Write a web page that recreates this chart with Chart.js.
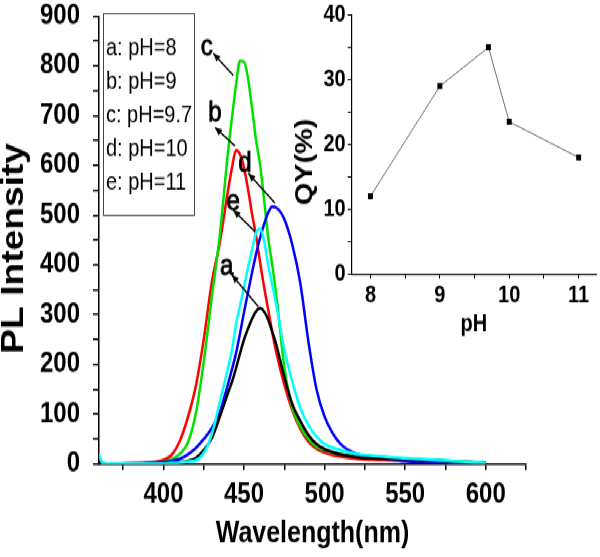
<!DOCTYPE html>
<html>
<head>
<meta charset="utf-8">
<script src="https://cdn.jsdelivr.net/npm/chart.js@4/dist/chart.umd.min.js"></script>
<style>
  html { overflow: hidden; }
  body { margin: 0; padding: 0; background: #fff; height: 557px; }
  /* the source figure is stretched vertically, so the whole drawing is too */
  #stage { position: relative; width: 600px; height: 464px; transform: scaleY(1.2); transform-origin: 0 0; }
  #stage canvas { position: absolute; top: 0; }
  #main { left: 0; }
  #inset { left: 290px; }
</style>
</head>
<body>
<div id="stage">
  <canvas id="main" width="600" height="464"></canvas>
  <canvas id="inset" width="310" height="290"></canvas>
</div>
<script>
// PL spectra, wavelength in nm
const wavelength = [360, 362, 365, 370, 380, 390, 400, 405, 410, 415, 420, 425, 430, 435, 440, 442.5, 445, 447.5,
  450, 452.5, 455, 457.5, 460, 462.5, 465, 467.5, 470, 475, 480, 485, 490, 495, 500, 505, 510, 520, 530, 540,
  550, 560, 570, 580, 590, 600];
const intensityA = [3, 1, 1, 1, 1, 1, 2, 3, 4, 6, 12, 28, 52, 95, 142, 165, 192, 222,
  250, 272, 292, 307, 313, 306, 290, 266, 240, 175, 120, 86, 58, 40, 30, 24, 19, 14, 12, 11,
  10, 8, 7, 5, 4, 3];
const intensityB = [2, 1, 1, 1, 2, 3, 8, 18, 45, 92, 155, 250, 365, 445, 548, 595, 630, 622,
  595, 552, 502, 458, 405, 355, 310, 265, 225, 160, 108, 70, 45, 31, 23, 18, 15, 11, 9, 8,
  7, 6, 5, 4, 3, 2];
const intensityC = [2, 1, 1, 1, 1, 2, 4, 9, 20, 42, 100, 205, 335, 460, 625, 695, 760, 810,
  808, 775, 715, 650, 600, 530, 455, 400, 340, 195, 112, 75, 50, 35, 28, 23, 20, 16, 14, 12,
  11, 9, 8, 6, 4, 3];
const intensityD = [3, 2, 1, 1, 1, 2, 4, 6, 10, 19, 32, 50, 72, 105, 160, 190, 222, 262,
  305, 345, 385, 422, 455, 482, 505, 517, 515, 492, 440, 362, 245, 150, 95, 62, 40, 20, 14, 10,
  6, 4, 3, 2, 2, 1];
const intensityE = [20, 3, 1, 1, 1, 1, 1, 2, 3, 5, 7, 22, 60, 125, 192, 229, 280, 318,
  355, 395, 430, 465, 472, 448, 400, 360, 320, 230, 165, 112, 78, 55, 40, 33, 28, 20, 17, 14,
  12, 10, 8, 6, 4, 3];
const seriesLabels = ['a: pH=8', 'b: pH=9', 'c: pH=9.7', 'd: pH=10', 'e: pH=11'];
const seriesTags = ['a', 'b', 'c', 'd', 'e'];
const seriesColors = ['#000000', '#ff0000', '#00e000', '#0000ff', '#00ffff'];
const drawOrder = [1, 4, 3, 2, 0];

// inset: quantum yield vs pH
const phValues = [8, 9, 9.7, 10, 11];
const qyValues = [12, 29, 35, 23.5, 18];

const FONT = '"Liberation Sans", Arial, sans-serif';

// letter labels with arrows, in data units [wavelength, intensity]
const tagAt = [[439.3, 395], [432.0, 705], [426.8, 838], [450.6, 604], [443.3, 527]];
const arrowFrom = [[442.4, 380], [432.0, 676], [430.9, 825], [452.7, 584], [443.3, 510]];
const arrowTo = [[458.9, 316], [444.4, 639], [443.3, 781], [469.2, 524], [456.8, 467]];

const allSeries = [intensityA, intensityB, intensityC, intensityD, intensityE];

const mainDecor = {
  id: 'mainDecor',
  afterDraw(chart) {
    const ctx = chart.ctx;
    const xs = chart.scales.x, ys = chart.scales.y;
    ctx.save();

    // legend box
    ctx.strokeStyle = '#444';
    ctx.lineWidth = 1;
    ctx.strokeRect(103.5, 11.5, 91, 168);
    ctx.fillStyle = '#000';
    ctx.font = '20px ' + FONT;
    ctx.textBaseline = 'middle';
    ctx.textAlign = 'left';
    seriesLabels.forEach((t, i) => ctx.fillText(t, 106, 40.5 + i * 28));

    // y title
    ctx.save();
    ctx.translate(14, 207);
    ctx.rotate(-Math.PI / 2);
    ctx.font = 'bold 31px ' + FONT;
    ctx.textAlign = 'center';
    ctx.fillText('PL Intensity', 0, 0);
    ctx.restore();

    // tags and arrows
    ctx.font = '24px ' + FONT;
    ctx.textAlign = 'center';
    ctx.lineWidth = 1.4;
    ctx.strokeStyle = '#000';
    seriesTags.forEach((t, i) => {
      const tx = xs.getPixelForValue(tagAt[i][0]), ty = ys.getPixelForValue(tagAt[i][1]);
      ctx.fillText(t, tx, ty);
      ctx.lineWidth = 0.8;
      ctx.strokeText(t, tx, ty);
      ctx.lineWidth = 1.4;
      const x0 = xs.getPixelForValue(arrowFrom[i][0]), y0 = ys.getPixelForValue(arrowFrom[i][1]);
      const x1 = xs.getPixelForValue(arrowTo[i][0]), y1 = ys.getPixelForValue(arrowTo[i][1]);
      ctx.beginPath();
      ctx.moveTo(x0, y0);
      ctx.lineTo(x1, y1);
      ctx.stroke();
      const a = Math.atan2(y0 - y1, x0 - x1);
      ctx.beginPath();
      ctx.moveTo(x0, y0);
      ctx.lineTo(x0 - 7 * Math.cos(a) + 3 * Math.sin(a), y0 - 7 * Math.sin(a) - 3 * Math.cos(a));
      ctx.lineTo(x0 - 7 * Math.cos(a) - 3 * Math.sin(a), y0 - 7 * Math.sin(a) + 3 * Math.cos(a));
      ctx.closePath();
      ctx.fill();
    });
    ctx.restore();
  }
};

new Chart(document.getElementById('main'), {
  type: 'line',
  data: {
    datasets: allSeries.map((vals, i) => ({
      label: seriesLabels[i],
      data: wavelength.map((w, j) => ({ x: w, y: vals[j] })),
      borderColor: seriesColors[i],
      borderWidth: 2.5,
      pointRadius: 0,
      cubicInterpolationMode: 'monotone',
      fill: false,
      order: drawOrder[i]
    }))
  },
  options: {
    responsive: false,
    animation: false,
    events: [],
    layout: { padding: { left: 0, right: 74, top: 13.3, bottom: 0 } },
    plugins: { legend: { display: false }, tooltip: { enabled: false } },
    scales: {
      x: {
        type: 'linear',
        min: 360,
        max: 625,
        afterFit: s => { s.height = 77.3; },
        border: { color: '#000', width: 1.5 },
        grid: { drawOnChartArea: false, tickLength: 5, color: '#000', lineWidth: 1.5 },
        ticks: {
          stepSize: 25,
          includeBounds: false,
          maxRotation: 0,
          autoSkip: false,
          padding: 9,
          color: '#000',
          font: { family: FONT, size: 24, weight: 'bold', lineHeight: 1 },
          callback: v => (v % 50 === 0 ? String(v) : '')
        },
        title: {
          display: true,
          text: 'Wavelength(nm)',
          color: '#000',
          padding: { top: 0, bottom: 6.5 },
          font: { family: FONT, size: 25, weight: 'bold', lineHeight: 1 }
        }
      },
      y: {
        min: 0,
        max: 900,
        afterFit: s => { s.width = 99; s.paddingTop = 0; s.paddingBottom = 0; },
        border: { color: '#000', width: 1.5 },
        grid: { drawOnChartArea: false, tickLength: 6, color: '#000', lineWidth: 1.5 },
        ticks: {
          stepSize: 50,
          autoSkip: false,
          padding: 13,
          color: '#000',
          font: { family: FONT, size: 24, weight: 'bold', lineHeight: 1 },
          callback: v => (v % 100 === 0 ? String(v) : '')
        }
      }
    }
  },
  plugins: [mainDecor]
});

const insetDecor = {
  id: 'insetDecor',
  afterDraw(chart) {
    const ctx = chart.ctx;
    ctx.save();
    ctx.translate(15, 135);
    ctx.rotate(-Math.PI / 2);
    ctx.fillStyle = '#000';
    ctx.font = 'bold 24px ' + FONT;
    ctx.textAlign = 'center';
    ctx.textBaseline = 'middle';
    ctx.fillText('QY(%)', 0, 0);
    ctx.restore();
  }
};

new Chart(document.getElementById('inset'), {
  type: 'line',
  data: {
    datasets: [{
      label: 'QY',
      data: phValues.map((p, i) => ({ x: p, y: qyValues[i] })),
      borderColor: '#707070',
      borderWidth: 1,
      pointStyle: 'rect',
      pointRadius: 3.5,
      pointBackgroundColor: '#000',
      pointBorderColor: '#000',
      pointBorderWidth: 0,
      tension: 0
    }]
  },
  options: {
    responsive: false,
    animation: false,
    events: [],
    layout: { padding: { left: 0, right: 2.3, top: 12.5, bottom: 0 } },
    plugins: { legend: { display: false }, tooltip: { enabled: false } },
    scales: {
      x: {
        type: 'linear',
        min: 7.73,
        max: 11.25,
        afterFit: s => { s.height = 61.7; },
        border: { color: '#000', width: 1.2 },
        grid: { drawOnChartArea: false, tickLength: 4, color: '#000', lineWidth: 1 },
        ticks: {
          stepSize: 0.5,
          includeBounds: false,
          maxRotation: 0,
          autoSkip: false,
          padding: 4,
          color: '#000',
          font: { family: FONT, size: 20, weight: 'bold', lineHeight: 1 },
          callback: v => (Number.isInteger(v) ? String(v) : '')
        },
        title: {
          display: true,
          text: 'pH',
          color: '#000',
          padding: { top: 0, bottom: 10 },
          font: { family: FONT, size: 20, weight: 'bold', lineHeight: 1 }
        }
      },
      y: {
        min: 0,
        max: 40,
        afterFit: s => { s.width = 61.7; s.paddingTop = 0; s.paddingBottom = 0; },
        border: { color: '#000', width: 1.2 },
        grid: { drawOnChartArea: false, tickLength: 4, color: '#000', lineWidth: 1 },
        ticks: {
          stepSize: 5,
          autoSkip: false,
          padding: 2,
          color: '#000',
          font: { family: FONT, size: 20, weight: 'bold', lineHeight: 1 },
          callback: v => (v % 10 === 0 ? String(v) : '')
        }
      }
    }
  },
  plugins: [insetDecor]
});
</script>
</body>
</html>
